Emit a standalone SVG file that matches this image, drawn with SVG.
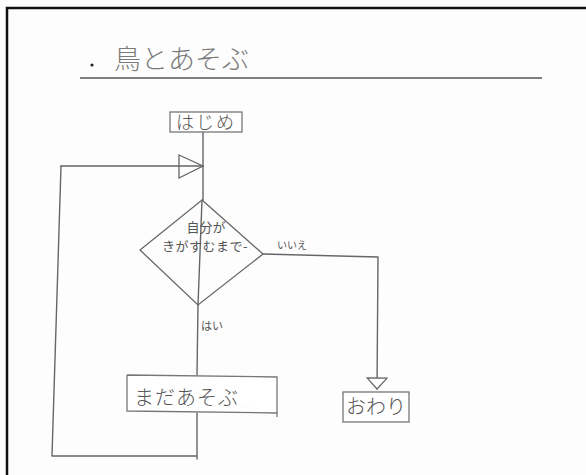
<svg xmlns="http://www.w3.org/2000/svg" width="586" height="475" viewBox="0 0 586 475">
<style>
.ln{fill:none;stroke:#666;stroke-width:1.4;stroke-linecap:round;stroke-linejoin:round}
.bx{fill:#fff;stroke:#777;stroke-width:1.3}
.t{font-family:"Noto Sans CJK JP","Noto Sans CJK SC",sans-serif;fill:#555}
</style>
<defs>
<marker id="triL" markerWidth="28" markerHeight="28" refX="25" refY="12" orient="auto" markerUnits="userSpaceOnUse">
<path d="M1,1 L25,12 L1,24 Z" fill="none" stroke="#666" stroke-width="1.3"/>
</marker>
<marker id="triD" markerWidth="14" markerHeight="24" refX="12" refY="11" orient="auto" markerUnits="userSpaceOnUse">
<path d="M1,1 L12,11 L1,21 Z" fill="#fff" stroke="#666" stroke-width="1.2"/>
</marker>
</defs>
<rect width="586" height="475" fill="#fdfdfd"/>
<path d="M7,480 L7,8 L590,8" fill="none" stroke="#111" stroke-width="2.5"/>
<g id="title">
<circle cx="92" cy="65" r="1.6" fill="#222"/>
<text class="t" x="114" y="69" font-size="27" style="fill:#7a7a7a" font-weight="300">鳥とあそぶ</text>
<line x1="80" y1="78" x2="542" y2="78" stroke="#555" stroke-width="1.4"/>
</g>
<g id="connectors">
<path class="ln" d="M203,132 L203,200"/>
<path class="ln" d="M61,166 L203,166" marker-end="url(#triL)"/>
<path class="ln" d="M61,166 L52,456 L197,456 L197,459 M197,456 L197,413"/>
<path class="ln" d="M202,200 L198,305" stroke="#999"/>
<path class="ln" d="M198,305 L197,375"/>
<path class="ln" d="M263,254 L378,257 L377,389" marker-end="url(#triD)"/>
<text class="t" x="277" y="249" font-size="10">いいえ</text>
<text class="t" x="201" y="330" font-size="11">はい</text>
</g>
<g id="start">
<rect class="bx" x="170" y="112" width="72" height="20"/>
<text class="t" x="206" y="129" font-size="18" text-anchor="middle" font-weight="300" letter-spacing="2">はじめ</text>
</g>
<g id="decision">
<path d="M202,200 L263,254 L198,305 L140,250 Z" fill="none" stroke="#666" stroke-width="1.3"/>
<text class="t" x="206" y="232" font-size="13" text-anchor="middle">自分が</text>
<text class="t" x="162" y="251" font-size="13" letter-spacing="0.5">きがすむまで-</text>
</g>
<g id="play">
<path class="bx" d="M127,375 L277,377 L277,417 M127,375 L127,411 L277,413"/>
<text class="t" x="134" y="405" font-size="20" font-weight="300" letter-spacing="1">まだあそぶ</text>
</g>
<g id="end">
<rect class="bx" x="343" y="392" width="66" height="30"/>
<text class="t" x="376" y="414" font-size="20" text-anchor="middle" font-weight="300">おわり</text>
</g>
</svg>
